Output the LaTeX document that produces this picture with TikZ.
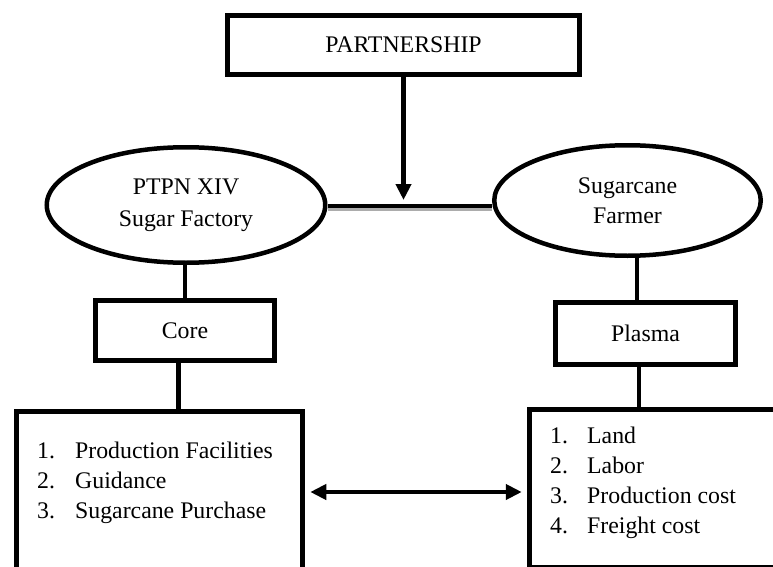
\documentclass[tikz,border=0pt]{standalone}
\usepackage{fontspec}
\setmainfont{Liberation Serif}
\usetikzlibrary{arrows.meta,shapes.geometric}

\begin{document}
\begin{tikzpicture}[x=1pt,y=-1pt,>={Triangle[length=16pt,width=15pt]},
  font=\fontsize{23.8}{30}\selectfont,
  box/.style={draw,line width=5pt,inner sep=0pt},
  oval/.style={draw,ellipse,line width=4.5pt,inner sep=0pt,align=center},
  link/.style={line width=4.5pt}]
\useasboundingbox (0,0) rectangle (773,567);
% top box
\node[box,minimum width=351.5pt,minimum height=59.5pt] (partner) at (403.5,45) {PARTNERSHIP};
% the two partners
\node[oval,minimum width=278.5pt,minimum height=115.5pt] (factory) at (186,205) {PTPN XIV\\[2pt]Sugar Factory};
\node[oval,minimum width=266.5pt,minimum height=110.5pt] (farmer) at (627.5,200.5) {Sugarcane\\Farmer};
% roles
\node[box,minimum width=179.5pt,minimum height=59.5pt] (core) at (185,330.5) {Core};
\node[box,minimum width=179.5pt,minimum height=61.5pt] (plasma) at (645.5,333.5) {Plasma};
% contributions (boxes run off the page)
\node[box,minimum width=286.5pt,minimum height=229pt] (corelist) at (159.5,525.5) {};
\node[box,minimum width=278.5pt,minimum height=158pt] (plasmalist) at (668.5,488.4) {};
\node[anchor=base west,inner sep=0pt] (coretext) at (37,458)
  {\begin{tabular}[t]{@{}p{38pt}@{}l@{}}
   1. & Production Facilities\\
   2. & Guidance\\
   3. & Sugarcane Purchase
   \end{tabular}};
\node[anchor=base west,inner sep=0pt] (plasmatext) at (550,443)
  {\begin{tabular}[t]{@{}p{37pt}@{}l@{}}
   1. & Land\\
   2. & Labor\\
   3. & Production cost\\
   4. & Freight cost
   \end{tabular}};
% partnership link
\draw[line width=3.5pt,gray!65] ([yshift=-4pt]factory.east) -- ([yshift=-4pt]factory.east -| farmer.west);
\draw[line width=3.5pt] ([yshift=-1pt]factory.east) -- ([yshift=-1pt]factory.east -| farmer.west);
\coordinate (meet) at (403.5,200);
\draw[link,->] (partner.south) -- (meet);
% vertical connectors
\draw[link] (core.north) -- (core.north |- factory.south);
\draw[link] ([xshift=-6.5pt]core.south) -- ([xshift=-6.5pt]core.south |- corelist.north);
\draw[link] ([xshift=-8.5pt]plasma.north) -- ([xshift=-8.5pt]plasma.north |- farmer.south);
\draw[link] ([xshift=-6.5pt]plasma.south) -- ([xshift=-6.5pt]plasma.south |- plasmalist.north);
% exchange
\draw[link,<->,shorten <=5pt,shorten >=5pt] ([yshift=33.5pt]corelist.east) -- ([yshift=33.5pt]corelist.east -| plasmalist.west);
\end{tikzpicture}
\end{document}
